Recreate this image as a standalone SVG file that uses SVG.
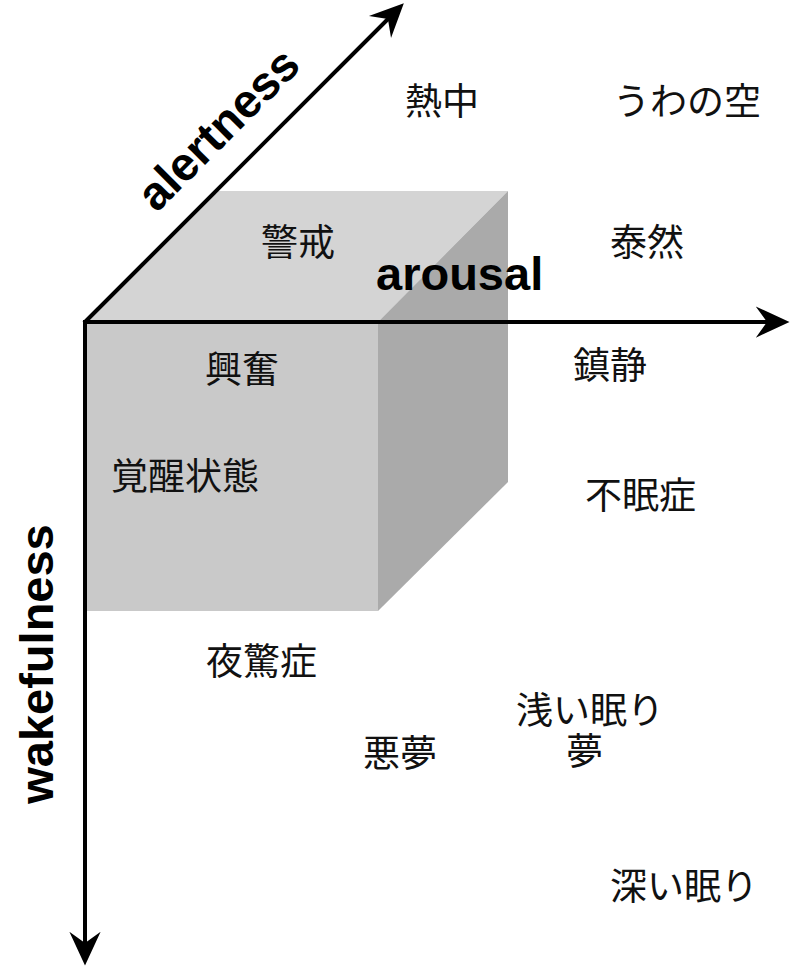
<svg xmlns="http://www.w3.org/2000/svg" width="800" height="971" viewBox="0 0 800 971">
<defs>
<style>
.jp{font-family:"Noto Sans CJK JP","Noto Sans CJK SC",sans-serif;font-size:37px;fill:#111}
.ax{font-family:"Liberation Sans",Arial,sans-serif;font-size:47px;font-weight:bold;fill:#000}
.axis{stroke:#000;stroke-width:4;fill:none}
</style>
<marker id="arr" markerUnits="userSpaceOnUse" markerWidth="40" markerHeight="40" viewBox="-20 -15 32 30" refX="0" refY="0" orient="auto">
<path d="M10,0 L-17,-12.5 L-8,0 L-17,12.5 Z" fill="#000"/>
</marker>
</defs>
<rect width="800" height="971" fill="#fff"/>
<g id="cube">
<polygon points="85,322 216,191 508,191 378,322" fill="#d4d4d4"/>
<rect x="85" y="322" width="293" height="289" fill="#c9c9c9"/>
<polygon points="378,322 508,191 508,482 378,611" fill="#aaaaaa"/>
</g>
<g id="connectors">
<line class="axis" x1="85" y1="322" x2="777" y2="322" marker-end="url(#arr)"/>
<line class="axis" x1="85" y1="320" x2="85" y2="953" marker-end="url(#arr)"/>
<line class="axis" x1="84" y1="323" x2="395" y2="12" marker-end="url(#arr)"/>
</g>
<g id="axis-alertness"><text class="ax" text-anchor="middle" transform="translate(229.5,140.4) rotate(-45)">alertness</text></g>
<g id="axis-arousal"><text class="ax" x="376" y="290">arousal</text></g>
<g id="axis-wakefulness"><text class="ax" text-anchor="middle" transform="translate(53,664) rotate(-90)">wakefulness</text></g>
<g id="n-nechu"><text class="jp" x="405" y="115">熱中</text></g>
<g id="n-uwanosora"><text class="jp" x="613" y="115">うわの空</text></g>
<g id="n-keikai"><text class="jp" x="261" y="256">警戒</text></g>
<g id="n-taizen"><text class="jp" x="610" y="256">泰然</text></g>
<g id="n-kofun"><text class="jp" x="205" y="383">興奮</text></g>
<g id="n-chinsei"><text class="jp" x="573" y="379">鎮静</text></g>
<g id="n-kakusei"><text class="jp" x="111" y="490">覚醒状態</text></g>
<g id="n-fuminsho"><text class="jp" x="585" y="509">不眠症</text></g>
<g id="n-yakyosho"><text class="jp" x="206" y="675">夜驚症</text></g>
<g id="n-asai"><text class="jp" x="516" y="724">浅い眠り</text></g>
<g id="n-yume"><text class="jp" x="566" y="765">夢</text></g>
<g id="n-akumu"><text class="jp" x="363" y="767">悪夢</text></g>
<g id="n-fukai"><text class="jp" x="610" y="900">深い眠り</text></g>
</svg>
